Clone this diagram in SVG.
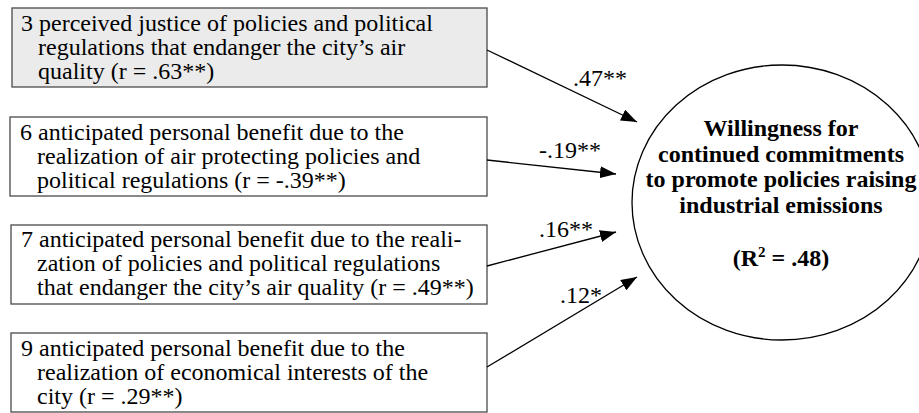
<svg xmlns="http://www.w3.org/2000/svg" width="919" height="413" viewBox="0 0 919 413">
  <defs>
    <style>
      .box { fill: #ffffff; stroke: #4a4a4a; stroke-width: 1.3; }
      .box.shaded { fill: #ebebeb; }
      .t { font-family: "Liberation Serif", "Times New Roman", serif; font-size: 24px; fill: #000; }
      .b { font-family: "Liberation Serif", "Times New Roman", serif; font-size: 24px; font-weight: bold; fill: #000; text-anchor: middle; }
      .conn { stroke: #000; stroke-width: 1.3; fill: none; marker-end: url(#arrow); }
      .lbl { font-family: "Liberation Serif", "Times New Roman", serif; font-size: 24px; fill: #000; }
    </style>
    <marker id="arrow" viewBox="0 0 16 12" refX="16" refY="6" markerWidth="16" markerHeight="12" markerUnits="userSpaceOnUse" orient="auto">
      <path d="M0,0 L16,6 L0,12 Z" fill="#000"/>
    </marker>
  </defs>

  <g id="node-3">
    <rect class="box shaded" x="12" y="8" width="475" height="79"/>
    <text class="t"><tspan x="21" y="31">3 perceived justice of policies and political</tspan><tspan x="38" y="55">regulations that endanger the city’s air</tspan><tspan x="38" y="79">quality (r = .63**)</tspan></text>
  </g>

  <g id="node-6">
    <rect class="box" x="10" y="117" width="477" height="79"/>
    <text class="t"><tspan x="20" y="140">6 anticipated personal benefit due to the</tspan><tspan x="37" y="164">realization of air protecting policies and</tspan><tspan x="37" y="188">political regulations (r = -.39**)</tspan></text>
  </g>

  <g id="node-7">
    <rect class="box" x="11" y="225" width="476" height="79"/>
    <text class="t"><tspan x="21" y="247">7 anticipated personal benefit due to the reali-</tspan><tspan x="37" y="271">zation of policies and political regulations</tspan><tspan x="37" y="295">that endanger the city’s air quality (r = .49**)</tspan></text>
  </g>

  <g id="node-9">
    <rect class="box" x="11" y="333" width="476" height="79"/>
    <text class="t"><tspan x="21" y="356">9 anticipated personal benefit due to the</tspan><tspan x="37" y="380">realization of economical interests of the</tspan><tspan x="37" y="404">city (r = .29**)</tspan></text>
  </g>

  <g id="node-outcome">
    <ellipse cx="782" cy="202.5" rx="150" ry="137.5" fill="#fff" stroke="#000" stroke-width="1.3"/>
    <text class="b"><tspan x="781" y="136">Willingness for</tspan><tspan x="781" y="161.5">continued commitments</tspan><tspan x="781" y="187">to promote policies raising</tspan><tspan x="781" y="212.5">industrial emissions</tspan></text>
    <text class="b" x="781" y="265.5">(R<tspan font-size="15" dy="-9">2</tspan><tspan dy="9"> = .48)</tspan></text>
  </g>

  <g id="connectors">
    <line class="conn" x1="487" y1="50" x2="637" y2="122"/>
    <line class="conn" x1="487" y1="160" x2="616" y2="174"/>
    <line class="conn" x1="487" y1="266" x2="616" y2="232"/>
    <line class="conn" x1="487" y1="367" x2="637" y2="277"/>
    <text class="lbl" x="573" y="86">.47**</text>
    <text class="lbl" x="539" y="158">-.19**</text>
    <text class="lbl" x="539" y="237">.16**</text>
    <text class="lbl" x="560" y="303">.12*</text>
  </g>
</svg>
